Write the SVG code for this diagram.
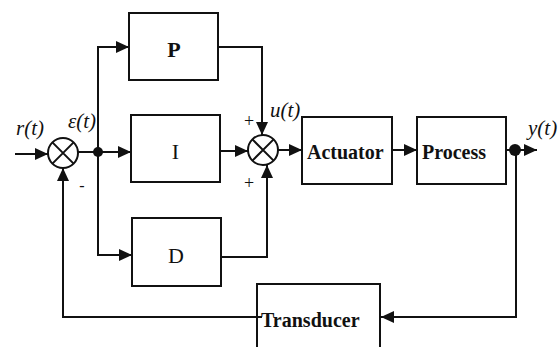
<svg xmlns="http://www.w3.org/2000/svg" width="558" height="347" viewBox="0 0 558 347">
<defs>
<style>
.box{fill:#fff;stroke:#111;stroke-width:2}
.ln{fill:none;stroke:#111;stroke-width:2}
.sum{fill:#fff;stroke:#111;stroke-width:2}
.lbl{fill:#111}
.b{font-weight:bold}
.it{font-style:italic;font-size:21px}
.sg{font-size:18px}
</style>
<marker id="ah" markerUnits="userSpaceOnUse" markerWidth="14" markerHeight="12" refX="13" refY="6" orient="auto">
<path d="M0,0 L13,6 L0,12 z" fill="#111"/>
</marker>
</defs>
<rect width="558" height="347" fill="#fff"/>
<g id="connectors">
<line class="ln" x1="15" y1="154" x2="48" y2="154" marker-end="url(#ah)"/>
<line class="ln" x1="78" y1="152" x2="98" y2="152"/>
<line class="ln" x1="98" y1="152" x2="131" y2="152" marker-end="url(#ah)"/>
<line class="ln" x1="98" y1="46" x2="98" y2="256"/>
<line class="ln" x1="97" y1="47" x2="129" y2="47" marker-end="url(#ah)"/>
<line class="ln" x1="97" y1="255" x2="132" y2="255" marker-end="url(#ah)"/>
<polyline class="ln" points="218,47 262,47 262,135" marker-end="url(#ah)"/>
<line class="ln" x1="220" y1="151" x2="248" y2="151" marker-end="url(#ah)"/>
<polyline class="ln" points="221,257 267,257 267,165" marker-end="url(#ah)"/>
<line class="ln" x1="278" y1="150" x2="302" y2="150" marker-end="url(#ah)"/>
<line class="ln" x1="392" y1="150" x2="417" y2="150" marker-end="url(#ah)"/>
<line class="ln" x1="506" y1="150" x2="537" y2="150" marker-end="url(#ah)"/>
<polyline class="ln" points="516,150 516,317 381,317" marker-end="url(#ah)"/>
<polyline class="ln" points="257,317 63,317 63,168" marker-end="url(#ah)"/>
<circle cx="98" cy="152" r="5" fill="#111"/>
<circle cx="515" cy="150" r="6" fill="#111"/>
</g>
<g id="sum1">
<circle class="sum" cx="63" cy="153" r="15"/>
<path class="ln" d="M52.4,142.4 L73.6,163.6 M73.6,142.4 L52.4,163.6"/>
</g>
<g id="sum2">
<circle class="sum" cx="263" cy="150" r="15"/>
<path class="ln" d="M252.4,139.4 L273.6,160.6 M273.6,139.4 L252.4,160.6"/>
</g>
<g font-family="Liberation Serif, DejaVu Serif, serif">
<g id="P">
<rect class="box" x="129" y="13" width="89" height="67"/>
<text class="lbl b" x="174" y="57" font-size="22" text-anchor="middle">P</text>
</g>
<g id="I">
<rect class="box" x="131" y="115" width="89" height="67"/>
<text class="lbl" x="175.5" y="159" font-size="22" text-anchor="middle">I</text>
</g>
<g id="D">
<rect class="box" x="132" y="218" width="89" height="68"/>
<text class="lbl" x="176" y="263" font-size="22" text-anchor="middle">D</text>
</g>
<g id="Actuator">
<rect class="box" x="302" y="117" width="90" height="67"/>
<text class="lbl b" x="307" y="159" font-size="20">Actuator</text>
</g>
<g id="Process">
<rect class="box" x="417" y="117" width="89" height="67"/>
<text class="lbl b" x="422" y="159" font-size="20">Process</text>
</g>
<g id="Transducer">
<rect class="box" x="257" y="284" width="123" height="72"/>
<line class="ln" x1="257" y1="317" x2="262" y2="317"/>
<text class="lbl b" x="261" y="327" font-size="20">Transducer</text>
</g>
<g id="labels">
<text class="lbl it" x="16" y="135">r(t)</text>
<text class="lbl it" x="68" y="128">ε(t)</text>
<text class="lbl it" x="270" y="117">u(t)</text>
<text class="lbl it" x="528" y="135">y(t)</text>
<text class="lbl sg" x="249" y="127" text-anchor="middle">+</text>
<text class="lbl sg" x="249" y="189" text-anchor="middle">+</text>
<text class="lbl" x="82" y="191" font-size="16" text-anchor="middle">-</text>
</g>
</g>
</svg>
